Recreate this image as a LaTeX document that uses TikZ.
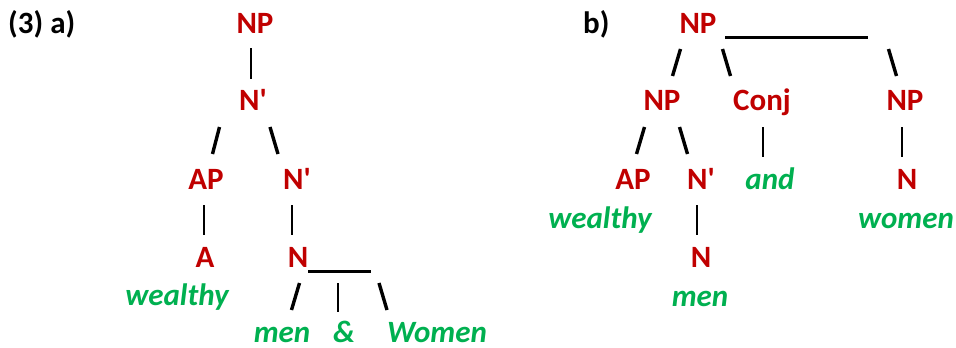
\documentclass[tikz,border=0pt]{standalone}
\usepackage{fontspec}
\setmainfont{Carlito}[Ligatures=TeXOff]
\definecolor{catred}{HTML}{C00000}
\definecolor{wordgreen}{HTML}{00B050}
\begin{document}
\begin{tikzpicture}[x=1pt,y=-1pt,
  cat/.style={text=catred, font=\bfseries\fontsize{31}{31}\selectfont, inner sep=0pt, anchor=base},
  wrd/.style={text=wordgreen, font=\bfseries\itshape\fontsize{31}{31}\selectfont, inner sep=0pt, anchor=base},
  lab/.style={text=black, font=\bfseries\fontsize{31}{31}\selectfont, inner sep=0pt, anchor=base west},
  slash/.style={line width=3.4pt, black},
  vbar/.style={line width=2pt, black},
  uline/.style={line width=3pt, black}]
\useasboundingbox (0,0) rectangle (956,348);
% labels
\node[lab] (la) at (8,33) {(3) a)};
\node[lab] (lb) at (583,33) {b)};
% left tree
\node[cat] (aNP) at (255,33) {NP};
\node[cat] (aNb1) at (253,110) {N'};
\node[cat] (aAP) at (206,189) {AP};
\node[cat] (aNb2) at (297,189) {N'};
\node[cat] (aA) at (205,267) {A};
\node[cat] (aN) at (298,267) {N};
\node[wrd] (aw) at (177,305) {wealthy};
\node[wrd, text depth=0pt] (amen) at (282,342) {men};
\node[wrd, text depth=0pt] (aamp) at (344,342) {\&};
\node[wrd, text depth=0pt] (awom) at (437,342) {Women};
\draw[vbar] (251,48) -- (251,79);
\draw[slash] (212.5,154) -- (219.5,127);
\draw[slash] (270,127) -- (278,154);
\draw[vbar] (204,205) -- (204,235);
\draw[vbar] (292,205) -- (292,235);
\draw[uline] (308,271) -- (371,271);
\draw[slash] (291.5,310) -- (299.5,283);
\draw[vbar] (338,283) -- (338,312);
\draw[slash] (379,283) -- (387,310);
% right tree
\node[cat] (bNP) at (698,33) {NP};
\node[cat] (bNP1) at (662,110) {NP};
\node[cat] (bConj) at (762,110) {Conj};
\node[cat] (bNP2) at (905,110) {NP};
\node[cat] (bAP) at (633,189) {AP};
\node[cat] (bNb) at (701,189) {N'};
\node[wrd] (band) at (770,189) {and};
\node[cat] (bN2) at (907,189) {N};
\node[wrd] (bw) at (600,228) {wealthy};
\node[wrd] (bwom) at (906,228) {women};
\node[cat] (bN1) at (701,267) {N};
\node[wrd] (bmen) at (700,306) {men};
\draw[uline] (725,37) -- (868,37);
\draw[slash] (672.5,76) -- (680.5,49);
\draw[slash] (722.5,49) -- (730.5,76);
\draw[slash] (888.5,49) -- (896.5,76);
\draw[slash] (636.5,154) -- (644.5,127);
\draw[slash] (679.5,127) -- (687.5,154);
\draw[vbar] (763,127) -- (763,157);
\draw[vbar] (902,127) -- (902,157);
\draw[vbar] (697,205) -- (697,235);
\end{tikzpicture}
\end{document}
